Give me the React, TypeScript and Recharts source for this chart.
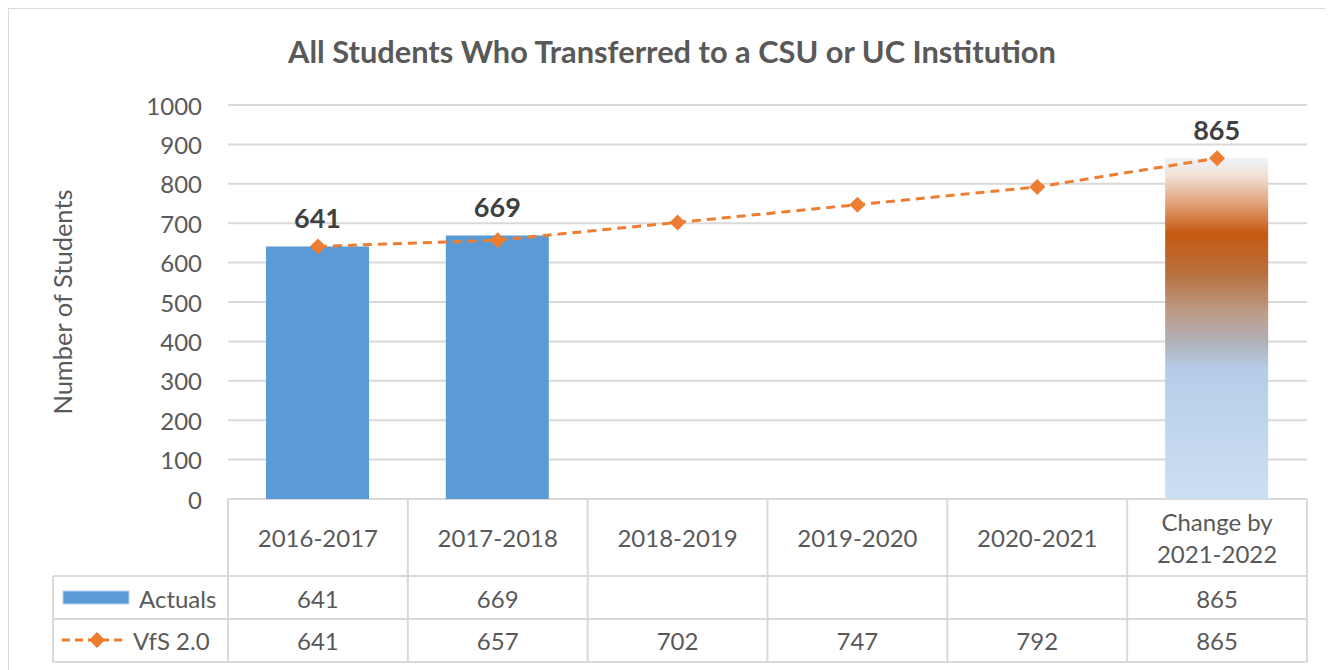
import React from "react";
import { ComposedChart, Bar, Line, XAxis, YAxis, CartesianGrid, Cell, LabelList } from "recharts";

const CATEGORIES = ["2016-2017", "2017-2018", "2018-2019", "2019-2020", "2020-2021", "Change by\n2021-2022"];
const ACTUALS: (number | null)[] = [641, 669, null, null, null, 865];
const VFS = [641, 657, 702, 747, 792, 865];
const Y_TICKS = [0, 100, 200, 300, 400, 500, 600, 700, 800, 900, 1000];
const SERIES_NAMES = ["Actuals", "VfS 2.0"];
const TITLE = "All Students Who Transferred to a CSU or UC Institution";
const Y_LABEL = "Number of Students";

const data = CATEGORIES.map((c, i) => ({ category: c, actuals: ACTUALS[i], vfs: VFS[i] }));

const FONT = "Lato, 'Open Sans', sans-serif";
const TXT = "#595959";
const GRID = "#d9d9d9";
const BLUE = "#5B9BD5";
const ORANGE = "#ED7D31";
const FS = 24;

const CHART_W = 1324;
const CHART_H = 661;
const M_TOP = 96;
const M_RIGHT = 26;
const Y_W = 219;
const X_H = 171;
const BAND = (CHART_W - M_RIGHT - Y_W) / CATEGORIES.length;

const Diamond = (props: any) => {
  const { cx, cy } = props;
  if (cx == null || cy == null) return null;
  const r = 8;
  return <path d={`M${cx},${cy - r}L${cx + r},${cy}L${cx},${cy + r}L${cx - r},${cy}Z`} fill={ORANGE} />;
};

const XTick = (props: any) => {
  const { x, y, payload } = props;
  const idx = payload.index;
  const value: string = payload.value;
  const left = x - BAND / 2;
  const right = x + BAND / 2;
  const h1 = y + 77;
  const h2 = y + 120;
  const h3 = y + 163;
  const lines = value.split("\n");
  const lineEls = lines.map((l, i) => {
    const ty = lines.length === 1 ? y + 38 : y + 22 + i * 32;
    return (
      <text key={i} x={x} y={ty} textAnchor="middle" dominantBaseline="central" fontFamily={FONT} fontSize={FS} fill={TXT}>
        {l}
      </text>
    );
  });
  const a = ACTUALS[idx];
  const v = VFS[idx];
  const legLeft = left - 175;
  return (
    <g>
      <line x1={left} y1={y} x2={left} y2={h3} stroke={GRID} strokeWidth={2} />
      {idx === CATEGORIES.length - 1 && <line x1={right} y1={y} x2={right} y2={h3} stroke={GRID} strokeWidth={2} />}
      <line x1={left} y1={h1} x2={right} y2={h1} stroke={GRID} strokeWidth={2} />
      <line x1={left} y1={h2} x2={right} y2={h2} stroke={GRID} strokeWidth={2} />
      <line x1={left} y1={h3} x2={right} y2={h3} stroke={GRID} strokeWidth={2} />
      {lineEls}
      {a != null && (
        <text x={x} y={y + 99} textAnchor="middle" dominantBaseline="central" fontFamily={FONT} fontSize={FS} fill={TXT}>
          {a}
        </text>
      )}
      <text x={x} y={y + 141} textAnchor="middle" dominantBaseline="central" fontFamily={FONT} fontSize={FS} fill={TXT}>
        {v}
      </text>
      {idx === 0 && (
        <g>
          <line x1={legLeft} y1={h1} x2={left} y2={h1} stroke={GRID} strokeWidth={2} />
          <line x1={legLeft} y1={h2} x2={left} y2={h2} stroke={GRID} strokeWidth={2} />
          <line x1={legLeft} y1={h3} x2={left} y2={h3} stroke={GRID} strokeWidth={2} />
          <line x1={legLeft} y1={h1} x2={legLeft} y2={h3} stroke={GRID} strokeWidth={2} />
          <rect x={legLeft + 10} y={y + 92} width={66} height={13} fill={BLUE} stroke="#bcd5ee" strokeWidth={1} />
          <text x={legLeft + 86} y={y + 99} dominantBaseline="central" fontFamily={FONT} fontSize={FS} fill={TXT}>
            {SERIES_NAMES[0]}
          </text>
          <line x1={legLeft + 9} y1={y + 141} x2={legLeft + 72} y2={y + 141} stroke={ORANGE} strokeWidth={3} strokeDasharray="8 5" />
          <Diamond cx={legLeft + 44} cy={y + 141} />
          <text x={legLeft + 80} y={y + 141} dominantBaseline="central" fontFamily={FONT} fontSize={FS} fill={TXT}>
            {SERIES_NAMES[1]}
          </text>
        </g>
      )}
    </g>
  );
};

const YTick = (props: any) => {
  const { x, y, payload } = props;
  return (
    <text x={x - 26} y={y} textAnchor="end" dominantBaseline="central" fontFamily={FONT} fontSize={FS} fill={TXT}>
      {payload.value}
    </text>
  );
};

const YLabel = (props: any) => {
  const vb = props.viewBox || { x: 0, y: M_TOP, width: Y_W, height: 394 };
  const cx = 53;
  const cy = vb.y + vb.height / 2;
  return (
    <text x={cx} y={cy} transform={`rotate(-90 ${cx} ${cy})`} textAnchor="middle" dominantBaseline="central" fontFamily={FONT} fontSize={25.5} fill={TXT}>
      {Y_LABEL}
    </text>
  );
};

const BarLabel = (props: any) => {
  const { x, y, width, value } = props;
  if (value == null) return null;
  return (
    <text x={x + width / 2} y={y - 29} textAnchor="middle" dominantBaseline="central" fontFamily={FONT} fontSize={27} fontWeight={700} fill="#404040">
      {value}
    </text>
  );
};

export default function App() {
  return (
    <div
      style={{
        position: "relative",
        width: CHART_W,
        height: CHART_H,
        borderTop: `1px solid ${GRID}`,
        borderLeft: `1px solid ${GRID}`,
        background: "#fff",
      }}
    >
      <div
        style={{
          position: "absolute",
          top: 25,
          left: 0,
          width: 1326,
          textAlign: "center",
          fontFamily: FONT,
          fontWeight: 700,
          fontSize: 30.8,
          lineHeight: "36px",
          color: TXT,
        }}
      >
        {TITLE}
      </div>
      <ComposedChart
        width={CHART_W}
        height={CHART_H}
        data={data}
        margin={{ top: M_TOP, right: M_RIGHT, left: 0, bottom: 0 }}
        style={{ fontFamily: FONT }}
      >
        <defs>
          <linearGradient id="grad865" x1="0" y1="0" x2="0" y2="1">
            <stop offset="0" stopColor="#eef3f9" />
            <stop offset="0.05" stopColor="#f1e2d7" />
            <stop offset="0.13" stopColor="#e2a47c" />
            <stop offset="0.22" stopColor="#c55a11" />
            <stop offset="0.34" stopColor="#b8703f" />
            <stop offset="0.45" stopColor="#bd9a86" />
            <stop offset="0.54" stopColor="#b1b1b9" />
            <stop offset="0.62" stopColor="#b5cde8" />
            <stop offset="1" stopColor="#cde0f2" />
          </linearGradient>
        </defs>
        <CartesianGrid vertical={false} stroke={GRID} strokeWidth={2} />
        <XAxis
          dataKey="category"
          height={X_H}
          axisLine={false}
          tickLine={false}
          tickSize={0}
          tickMargin={0}
          interval={0}
          tick={<XTick />}
        />
        <YAxis
          width={Y_W}
          domain={[0, 1000]}
          ticks={Y_TICKS}
          axisLine={false}
          tickLine={false}
          tickSize={0}
          tickMargin={0}
          tick={<YTick />}
          label={{ content: <YLabel /> }}
        />
        <Bar dataKey="actuals" barSize={103} fill={BLUE} isAnimationActive={false}>
          {data.map((d, i) => (
            <Cell key={i} fill={i === data.length - 1 ? "url(#grad865)" : BLUE} />
          ))}
          <LabelList dataKey="actuals" content={<BarLabel />} />
        </Bar>
        <Line
          dataKey="vfs"
          stroke={ORANGE}
          strokeWidth={3}
          strokeDasharray="9 6"
          dot={<Diamond />}
          activeDot={false}
          isAnimationActive={false}
        />
      </ComposedChart>
    </div>
  );
}
